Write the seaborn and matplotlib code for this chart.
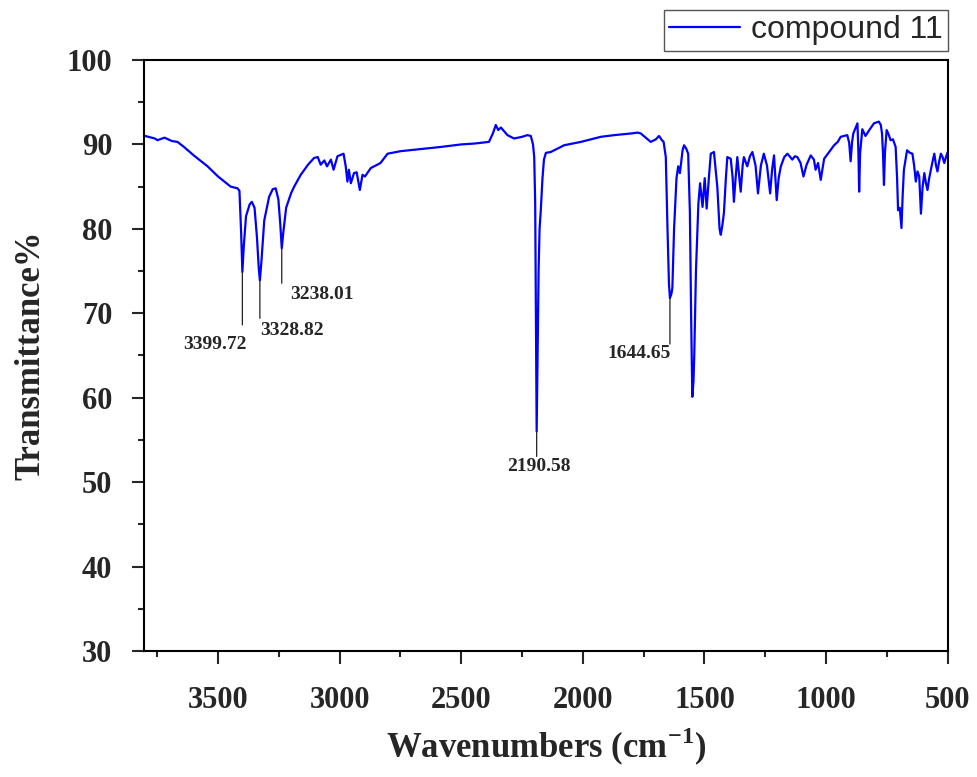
import numpy as np
import pandas as pd
import matplotlib
matplotlib.use("Agg")
import matplotlib.pyplot as plt
from matplotlib.ticker import MultipleLocator
import seaborn as sns

# IR spectrum (wavenumber, transmittance %)
wavenumber = [
    3800, 3760, 3749, 3720, 3690, 3667, 3640, 3600, 3543, 3500, 3448, 3420, 3412, 3405, 3400,
    3394, 3385, 3370, 3361, 3350, 3340, 3333, 3328, 3322, 3310, 3290, 3275, 3263, 3252, 3244,
    3238, 3232, 3220, 3200, 3187, 3160, 3130, 3105, 3090, 3078, 3063, 3052, 3036, 3025, 3009,
    2984, 2975, 2968, 2962, 2954, 2941, 2930, 2917, 2906, 2896, 2872, 2845, 2832, 2803, 2749,
    2650, 2584, 2500, 2447, 2386, 2370, 2358, 2348, 2337, 2310, 2283, 2250, 2228, 2214, 2205,
    2200, 2196, 2193, 2190, 2186, 2182, 2178, 2173, 2166, 2160, 2152, 2132, 2077, 2008, 1926,
    1871, 1800, 1775, 1762, 1721, 1700, 1687, 1675, 1668, 1659, 1652, 1646, 1642, 1636, 1632,
    1625, 1615, 1608, 1601, 1590, 1584, 1575, 1567, 1560, 1555, 1550, 1545, 1542, 1535, 1525,
    1518, 1508, 1499, 1491, 1482, 1474, 1461, 1447, 1438, 1433, 1426, 1420, 1412, 1406, 1392,
    1384, 1379, 1372, 1365, 1351, 1343, 1338, 1324, 1313, 1303, 1290, 1280, 1268, 1256, 1243,
    1230, 1222, 1214, 1203, 1195, 1186, 1172, 1159, 1150, 1139, 1128, 1118, 1105, 1093, 1080,
    1063, 1050, 1043, 1033, 1022, 1008, 990, 967, 952, 940, 913, 905, 899, 893, 888,
    878, 871, 867, 864, 860, 851, 838, 820, 803, 783, 775, 770, 766, 762, 758,
    751, 743, 735, 725, 714, 708, 704, 697, 690, 685, 680, 667, 655, 645, 638,
    631, 624, 617, 610, 603, 596, 590, 583, 576, 569, 562, 555, 548, 542, 535,
    528, 521, 514, 507, 500,
]
transmittance = [
    91.0, 90.7, 90.5, 90.8, 90.4, 90.3, 89.7, 88.7, 87.4, 86.2, 85.0, 84.8, 84.5, 79.5, 74.9,
    78.0, 81.5, 82.9, 83.2, 82.5, 79.0, 75.5, 73.9, 76.0, 81.0, 83.8, 84.7, 84.8, 83.5, 80.5,
    77.7, 79.5, 82.5, 84.2, 85.0, 86.4, 87.6, 88.4, 88.5, 87.6, 88.1, 87.4, 88.2, 87.0, 88.6,
    88.9, 87.4, 85.6, 87.0, 85.4, 86.6, 86.7, 84.6, 86.4, 86.2, 87.2, 87.6, 87.8, 88.9, 89.2,
    89.5, 89.7, 90.0, 90.1, 90.3, 91.3, 92.3, 91.7, 92.0, 91.1, 90.7, 90.9, 91.1, 91.0, 90.0,
    88.5, 83.0, 70.0, 56.0, 66.0, 75.0, 80.0, 82.2, 86.0, 88.2, 89.0, 89.1, 89.9, 90.3, 90.9,
    91.1, 91.3, 91.4, 91.3, 90.3, 90.6, 91.0, 90.5, 90.3, 88.5, 80.0, 73.5, 71.8, 72.3, 73.0,
    80.0, 86.0, 87.4, 86.6, 89.3, 89.9, 89.5, 88.9, 82.0, 70.0, 60.1, 62.0, 65.0, 75.0, 83.0,
    85.4, 82.6, 86.0, 82.4, 86.0, 88.9, 89.1, 84.9, 80.0, 79.3, 80.5, 81.9, 86.0, 88.5, 88.3,
    86.0, 83.2, 86.0, 88.5, 84.4, 87.5, 88.5, 87.4, 88.6, 89.1, 87.5, 84.2, 87.5, 88.9, 87.5,
    84.2, 87.0, 88.7, 83.4, 86.0, 87.4, 88.5, 88.9, 88.6, 88.2, 88.6, 88.5, 87.8, 86.2, 87.6,
    88.7, 88.2, 87.0, 87.8, 85.8, 88.3, 89.0, 89.9, 90.3, 90.9, 91.1, 90.2, 88.0, 90.3, 91.3,
    92.0, 92.5, 89.0, 84.4, 89.0, 91.8, 91.0, 91.8, 92.5, 92.7, 92.3, 91.3, 89.0, 85.2, 89.0,
    91.7, 91.2, 90.5, 90.6, 89.7, 86.0, 82.2, 82.5, 80.1, 84.0, 87.0, 89.3, 89.0, 88.9, 87.5,
    85.6, 86.8, 86.2, 81.8, 85.0, 86.6, 85.5, 84.6, 86.0, 87.0, 88.0, 88.9, 87.5, 86.8, 88.0,
    88.9, 88.5, 87.8, 88.5, 89.1,
]

# labelled peaks
peak_labels = ["3399.72", "3328.82", "3238.01", "2190.58", "1644.65"]
peak_wn = [3400, 3328, 3238, 2190, 1642]
peak_t = [74.9, 73.9, 77.7, 56.0, 71.8]

df = pd.DataFrame({"Wavenumber": wavenumber, "T": transmittance})

sns.set_style("ticks")
plt.rcParams["font.family"] = ["Liberation Serif", "DejaVu Serif"]
plt.rcParams["mathtext.fontset"] = "custom"
plt.rcParams["mathtext.bf"] = "Liberation Serif:bold"
plt.rcParams["mathtext.rm"] = "Liberation Serif"

fig = plt.figure(figsize=(9.78, 7.77), dpi=100)
ax = fig.add_axes([0.1476, 0.1622, 0.8214, 0.7606])

sns.lineplot(data=df, x="Wavenumber", y="T", color="#0000ff", linewidth=1.6,
             label="compound 11", ax=ax)

ax.set_xlim(3803, 500)
ax.set_ylim(30, 100)
ax.xaxis.set_major_locator(MultipleLocator(500))
ax.xaxis.set_minor_locator(MultipleLocator(250))
ax.yaxis.set_major_locator(MultipleLocator(10))
ax.yaxis.set_minor_locator(MultipleLocator(5))
ax.tick_params(which="major", length=9, width=1.5, labelsize=22, pad=6)
ax.tick_params(which="minor", length=4.5, width=1.5)
ax.tick_params(axis="x", pad=16)
ax.tick_params(axis="y", pad=14)
for lab in ax.get_xticklabels() + ax.get_yticklabels():
    lab.set_fontweight("bold")
for sp in ax.spines.values():
    sp.set_linewidth(1.5)
    sp.set_color("black")

ax.set_xlabel("Wavenumbers (cm$^{\\mathbf{-1}}$)", fontsize=25, fontweight="bold", labelpad=8)
ax.set_ylabel("Transmittance%", fontsize=25, fontweight="bold", labelpad=14)

# peak markers: vertical line down from tip, then value label
offsets = [(-27, -73, 53), (32, -50, 38), (40, -46, 35), (2, -35, 25), (-31, -55, 46)]
for lab, wn, t, (dx, dy, ln) in zip(peak_labels, peak_wn, peak_t, offsets):
    ax.annotate("", xy=(wn, t), xytext=(0, -ln), textcoords="offset pixels",
                arrowprops=dict(arrowstyle="-", lw=0.9, color="#222222", shrinkA=0, shrinkB=0))
    ax.annotate(lab, xy=(wn, t), xytext=(dx, dy), textcoords="offset pixels",
                ha="center", va="center", fontsize=14, fontweight="bold")

handles, labels = ax.get_legend_handles_labels()
ax.legend(handles, labels, loc="upper right", bbox_to_anchor=(0.9693, 0.9871),
          bbox_transform=fig.transFigure, borderaxespad=0, fancybox=False,
          edgecolor="#555555", framealpha=1, handlelength=2.2, handletextpad=0.35,
          borderpad=0.17, prop={"family": "Liberation Sans", "size": 23})
ax.get_legend().get_frame().set_linewidth(1.0)

fig.savefig("out.png", dpi=100)
